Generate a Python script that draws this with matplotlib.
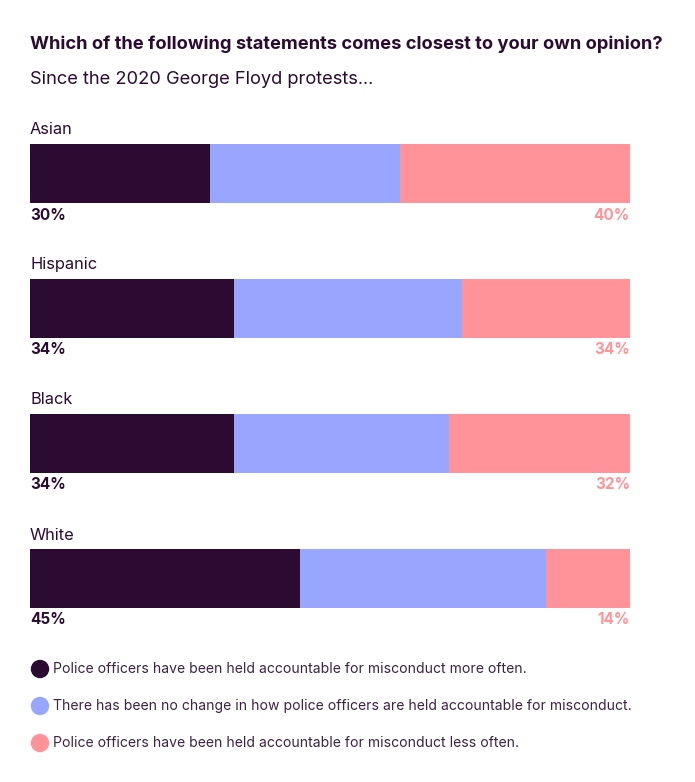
import matplotlib.pyplot as plt
from matplotlib.patches import Ellipse

# Data
groups = ["Asian", "Hispanic", "Black", "White"]
more_often = [30.0, 34.0, 34.0, 45.0]
no_change = [31.7, 38.0, 35.8, 41.0]
less_often = [38.3, 28.0, 30.2, 14.0]
more_labels = ["30%", "34%", "34%", "45%"]
less_labels = ["40%", "34%", "32%", "14%"]
series_names = [
    "Police officers have been held accountable for misconduct more often.",
    "There has been no change in how police officers are held accountable for misconduct.",
    "Police officers have been held accountable for misconduct less often.",
]

DARK = "#2c0b32"
BLUE = "#99a6fe"
PINK = "#ff9399"
TEXT = "#2c0b32"
colors = [DARK, BLUE, PINK]

plt.rcParams["font.family"] = ["Inter", "DejaVu Sans"]

W, H = 695, 782
fig = plt.figure(figsize=(W / 100, H / 100), dpi=100)


def fx(px):
    return px / W


def fy(py):
    return 1 - py / H


# bars axis: x from 30 to 630 px, one unit of y = 135 px, first bar centred at 173 px
ax = fig.add_axes([fx(30), 0, fx(600), 1])
ax.set_xlim(0, 100)
ax.set_ylim((H - 173) / 135, -173 / 135)
ax.axis("off")

y = list(range(len(groups)))
h = 59 / 135
left = [0] * len(groups)
for vals, c in zip([more_often, no_change, less_often], colors):
    ax.barh(y, vals, left=left, height=h, color=c, linewidth=0)
    left = [a + b for a, b in zip(left, vals)]

for i, g in enumerate(groups):
    ax.text(0, i - 43 / 135, g, fontsize=11.8, color=TEXT, va="center", ha="left")
    ax.text(0, i + 42 / 135, more_labels[i], fontsize=11, fontweight="bold",
            color=DARK, va="center", ha="left")
    ax.text(left[i], i + 42 / 135, less_labels[i], fontsize=11, fontweight="bold",
            color=PINK, va="center", ha="right")

# titles
fig.text(fx(30), fy(44), "Which of the following statements comes closest to your own opinion?",
         fontsize=13.2, fontweight="bold", color=TEXT, va="center", ha="left")
fig.text(fx(30), fy(80), "Since the 2020 George Floyd protests...",
         fontsize=13.2, color=TEXT, va="center", ha="left")

# legend
for k, (name, c) in enumerate(zip(series_names, colors)):
    yy = 669 + 37 * k
    fig.add_artist(Ellipse((fx(40), fy(yy)), fx(17), 17 / H, color=c,
                           transform=fig.transFigure))
    fig.text(fx(53), fy(yy), name, fontsize=10.1, color="#3d2444",
             va="center", ha="left")

fig.savefig("out.png", dpi=100, facecolor="white")
